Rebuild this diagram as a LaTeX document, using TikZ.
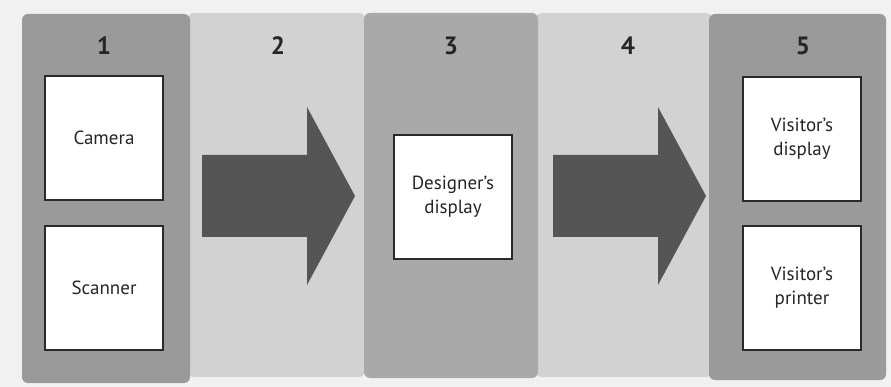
\documentclass[tikz,border=0pt]{standalone}
\usepackage{fontspec}
\setmainfont{PT Sans}
\definecolor{bgc}{HTML}{F1F1F1}
\definecolor{darkpanel}{HTML}{9A9A9A}
\definecolor{midpanel}{HTML}{A9A9A9}
\definecolor{lightpanel}{HTML}{D2D2D2}
\definecolor{arrowc}{HTML}{555555}
\definecolor{boxline}{HTML}{2A2A2A}
\begin{document}
\begin{tikzpicture}[x=1pt,y=-1pt,
  panel/.style={rounded corners=6pt},
  numlabel/.style={font=\bfseries\fontsize{25}{25}\selectfont, text=black!85},
  devbox/.style={draw=boxline, line width=2pt, fill=white, minimum width=118pt, minimum height=124pt, align=center, inner sep=0pt, font=\fontsize{19}{24}\selectfont, text=black!85},
  bigarrow/.style={fill=arrowc}]
\fill[bgc] (0,0) rectangle (891,387);
\useasboundingbox (0,0) rectangle (891,387);
% panels
\fill[panel, lightpanel] (188,13) rectangle (365,377);
\fill[panel, lightpanel] (536,13) rectangle (712,377);
\fill[panel, darkpanel] (22,14) rectangle (190,383);
\fill[panel, midpanel] (364,13) rectangle (538,378);
\fill[panel, darkpanel] (709,14) rectangle (886,380);
% numbers
\node[numlabel] (n1) at (104,46) {1};
\node[numlabel] (n2) at (278,46) {2};
\node[numlabel] (n3) at (451,46) {3};
\node[numlabel] (n4) at (628,46) {4};
\node[numlabel] (n5) at (803,46) {5};
% arrows
\fill[bigarrow] (202,155) -- (307,155) -- (307,107) -- (355,196) -- (307,285) -- (307,237) -- (202,237) -- cycle;
\fill[bigarrow] (553,155) -- (658,155) -- (658,107) -- (706,196) -- (658,285) -- (658,237) -- (553,237) -- cycle;
% boxes
\node[devbox] (camera) at (104,138) {Camera};
\node[devbox] (scanner) at (104,288) {Scanner};
\node[devbox] (designer) at (453,197) {Designer's\\display};
\node[devbox] (vdisplay) at (802,139) {Visitor's\\display};
\node[devbox] (vprinter) at (802,288) {Visitor's\\printer};
\end{tikzpicture}
\end{document}
